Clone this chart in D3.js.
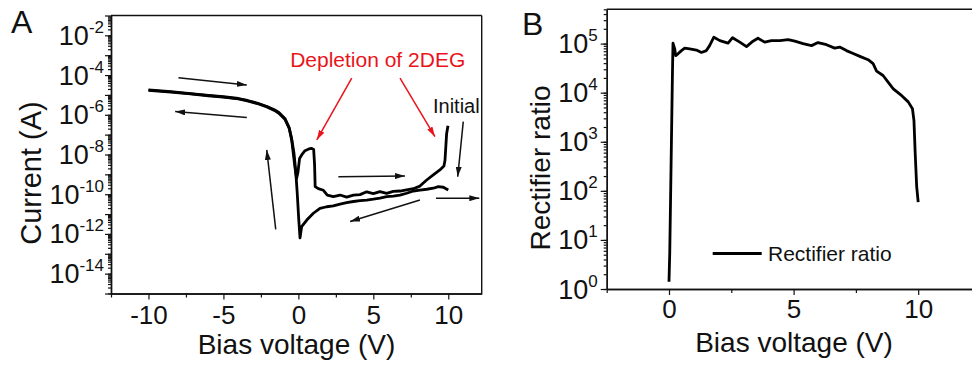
<!DOCTYPE html>
<html><head><meta charset="utf-8">
<script src="https://cdn.jsdelivr.net/npm/d3@7"></script>
<style>body{margin:0;background:#fff}svg{display:block}text{font-family:"Liberation Sans",Arial,sans-serif;fill:#111}</style>
</head><body>
<script>
// ---------- Panel A data: I-V sweeps (V, current A) ----------
const fwdV = [-10,-8.5,-7.2,-6,-5,-4,-3.4,-2.7,-2.1,-1.6,-1.3,-0.9,-0.6,-0.44,-0.33,-0.22,-0.12,-0.03,0.08,0.22,0.44,0.7,0.89,1.02,1.08,1.12,1.33,1.67,1.93,2.33,2.78,3.22,3.67,4.11,4.56,5,5.44,5.89,6.33,6.78,7.22,7.67,8.11,8.56,9,9.44,9.71,9.78,9.89,9.98];
const fwdI = [1.7e-5,1.38e-5,1.12e-5,9.1e-6,7.8e-6,6.3e-6,5.0e-6,3.6e-6,2.5e-6,1.66e-6,1.2e-6,6.0e-7,2.0e-7,5.0e-8,1.0e-8,2.0e-9,6.3e-10,1.26e-9,6.3e-9,9.5e-9,1.55e-8,1.9e-8,2.04e-8,1.78e-8,3.2e-9,2.4e-10,1.9e-10,1.58e-10,9.1e-11,7.6e-11,9.1e-11,7.2e-11,8.9e-11,9.5e-11,1.32e-10,1.07e-10,1.35e-10,1.1e-10,1.38e-10,1.45e-10,1.66e-10,1.9e-10,2.57e-10,5.2e-10,9.3e-10,1.66e-9,2.63e-9,5.0e-9,1.12e-7,2.8e-7];
const revV = [10,9.67,9.33,9,8.56,8.11,7.67,7.22,6.78,6.33,5.89,5.44,5,4.56,4.11,3.67,3.22,2.78,2.33,1.89,1.44,1,0.56,0.22,0.11,0.02,-0.08,-0.18,-0.3,-0.45,-0.62,-0.9,-1.3,-1.6,-2.1,-2.7,-3.4,-4,-5,-6,-7.2,-8.5,-10];
const revI = [1.62e-10,2.24e-10,2.4e-10,2.0e-10,1.78e-10,1.62e-10,1.45e-10,1.12e-10,9.1e-11,8.1e-11,7.6e-11,6.3e-11,5.6e-11,5.1e-11,4.8e-11,4.3e-11,3.8e-11,3.2e-11,2.57e-11,2.34e-11,1.95e-11,1.1e-11,5.0e-12,2.34e-12,6.3e-13,6.3e-12,1.26e-10,1.6e-9,1.26e-8,6.3e-8,2.24e-7,6.6e-7,1.32e-6,1.78e-6,2.63e-6,3.8e-6,5.25e-6,6.6e-6,8.1e-6,9.5e-6,1.17e-5,1.45e-5,1.78e-5];
const xTicksA = [-10,-5,0,5,10];
const xMinorA = [-12.5,-7.5,-2.5,2.5,7.5];
const yTicksA = [1e-2,1e-4,1e-6,1e-8,1e-10,1e-12,1e-14];

// annotation arrows in data coordinates [V0, I0, V1, I1]
const blackArrows = [[-8.0,7.4e-5,-3.44,3.16e-5],[-3.44,7.4e-7,-8.22,1.45e-6],[-1.51,1.7e-12,-2.11,1.7e-8],[2.67,7.6e-10,7.11,8.3e-10],[8.11,5.1e-11,3.45,4.2e-12],[11.0,4.5e-7,10.63,7.6e-10],[9.18,6.3e-11,12.07,6.3e-11]];
const redArrows = [[3.56,7.1e-5,1.23,5.4e-8],[6.78,7.1e-5,9.11,7.9e-8]];
const redLabel = {text:"Depletion of 2DEG", v:-0.55, i:2.57e-4};
const blackLabel = {text:"Initial", v:8.98, i:1.23e-6};

// ---------- Panel B data: rectifier ratio ----------
const rrV = [0,0.03,0.07,0.11,0.14,0.16,0.23,0.27,0.36,0.5,0.63,0.83,1.1,1.3,1.5,1.63,1.8,2.04,2.37,2.55,2.84,3.11,3.37,3.57,3.84,4.11,4.45,4.78,5.05,5.38,5.72,5.98,6.32,6.65,6.85,7.12,7.39,7.66,7.99,8.19,8.33,8.59,8.8,9.0,9.34,9.6,9.77,9.83,9.88,9.94,10.0];
const rrR = [1.4,5.4,120,2700,28000,102000,78000,57000,62000,72000,81000,78000,74000,66000,72000,91000,135000,115000,102000,132000,107000,87000,112000,129000,107000,115000,115000,120000,112000,100000,91000,105000,95000,81000,85000,72000,63000,55000,47000,39000,27500,22400,16200,12000,8700,6500,4700,2700,575,120,59];
const xTicksB = [0,5,10];
const xMinorB = [-2.5,2.5,7.5,12.5];
const yTicksB = [1,10,100,1000,10000,100000];

const W = 972, H = 369;
const svg = d3.select("body").append("svg").attr("width",W).attr("height",H);
const defs = svg.append("defs");
function marker(id,color,len,wid){
  defs.append("marker").attr("id",id).attr("markerUnits","userSpaceOnUse")
    .attr("viewBox",`0 0 ${len} ${wid}`).attr("refX",len).attr("refY",wid/2)
    .attr("markerWidth",len).attr("markerHeight",wid).attr("orient","auto")
    .append("path").attr("d",`M0,0L${len},${wid/2}L0,${wid}Z`).attr("fill",color);
}
marker("hb","#111",10,6);
marker("hr","#e8141c",10,6);

const fs = 26, sup = 17;

function logMinors(lo, hi){
  const out=[];
  for(let e=Math.floor(Math.log10(lo)); e<Math.ceil(Math.log10(hi)); e++)
    for(let k=1;k<10;k++){const v=k*Math.pow(10,e); if(v>=lo&&v<=hi) out.push(v);}
  return out;
}

function panel(opt){
  const g = svg.append("g");
  const x = d3.scaleLinear().domain(opt.xd).range([opt.l,opt.r]);
  const y = d3.scaleLog().domain(opt.yd).range([opt.b,opt.t]);
  g.append("g").attr("transform",`translate(0,${opt.b})`)
    .call(d3.axisBottom(x).tickValues(opt.xMinor).tickSize(4).tickFormat("").tickSizeOuter(0));
  g.append("g").attr("transform",`translate(${opt.l},0)`)
    .call(d3.axisLeft(y).tickValues(logMinors(opt.yd[0],opt.yd[1])).tickSize(3).tickFormat("").tickSizeOuter(0));
  const xa = g.append("g").attr("transform",`translate(0,${opt.b})`)
    .call(d3.axisBottom(x).tickValues(opt.xTicks).tickSize(6).tickSizeOuter(0).tickFormat(d=>String(d)));
  xa.selectAll("text").attr("y",opt.xLblY).attr("dy",0).style("font-size",fs+"px").style("font-family","Liberation Sans, Arial").attr("fill","#111");
  g.append("g").attr("transform",`translate(${opt.l},0)`)
    .call(d3.axisLeft(y).tickValues(opt.yMajorAll).tickSize(6).tickSizeOuter(0).tickFormat(""));
  g.selectAll(".domain").attr("stroke","#111").attr("stroke-width",1.4);
  g.selectAll(".tick line").attr("stroke","#111").attr("stroke-width",1.2);
  opt.yTicks.forEach(v=>{
    const t = g.append("text").attr("x",opt.l-opt.lblGap).attr("y",y(v)+9.5).attr("text-anchor","end").style("font-size","27px");
    t.append("tspan").text("10");
    t.append("tspan").attr("dy",-12).style("font-size",sup+"px").text(String(Math.round(Math.log10(v))));
  });
  return {g,x,y};
}

// ---------- Panel A ----------
const A = panel({l:111,r:481.7,t:15.5,b:293.5,xd:[-12.5,12.23],yd:[1e-15,1e-1],
  xTicks:xTicksA,xMinor:xMinorA,yTicks:yTicksA,xLblY:30,
  yMajorAll:d3.range(-15,0).map(e=>Math.pow(10,e)),lblGap:7});
A.g.append("line").attr("x1",111).attr("x2",481.7).attr("y1",15.5).attr("y2",15.5).attr("stroke","#111").attr("stroke-width",1.4);
A.g.append("line").attr("x1",481.7).attr("x2",481.7).attr("y1",15.5).attr("y2",293.5).attr("stroke","#111").attr("stroke-width",1.4);

const lineA = d3.line().x(d=>A.x(d[0])).y(d=>A.y(d[1]));
[[fwdV,fwdI],[revV,revI]].forEach(([vv,ii])=>{
  A.g.append("path").attr("d",lineA(vv.map((v,k)=>[v,ii[k]])))
    .attr("fill","none").attr("stroke","#000").attr("stroke-width",2.8).attr("stroke-linejoin","round");
});
blackArrows.forEach(a=>{
  A.g.append("line").attr("x1",A.x(a[0])).attr("y1",A.y(a[1])).attr("x2",A.x(a[2])).attr("y2",A.y(a[3]))
    .attr("stroke","#111").attr("stroke-width",1.5).attr("marker-end","url(#hb)");
});
redArrows.forEach(a=>{
  A.g.append("line").attr("x1",A.x(a[0])).attr("y1",A.y(a[1])).attr("x2",A.x(a[2])).attr("y2",A.y(a[3]))
    .attr("stroke","#e8141c").attr("stroke-width",1.5).attr("marker-end","url(#hr)");
});
A.g.append("text").attr("x",A.x(redLabel.v)).attr("y",A.y(redLabel.i)).style("font-size","21px").style("fill","#e8141c").text(redLabel.text);
A.g.append("text").attr("x",A.x(blackLabel.v)).attr("y",A.y(blackLabel.i)).style("font-size","20px").text(blackLabel.text);
A.g.append("text").attr("x",296.5).attr("y",354).attr("text-anchor","middle").style("font-size","28px").text("Bias voltage (V)");
A.g.append("text").attr("transform","translate(41,173) rotate(-90)").attr("text-anchor","middle").style("font-size","29px").text("Current (A)");
svg.append("text").attr("x",11).attr("y",33).style("font-size","32px").text("A");

// ---------- Panel B ----------
const B = panel({l:606.7,r:980.5,t:9.3,b:289,xd:[-2.5,12.5],yd:[1,5e5],
  xTicks:xTicksB,xMinor:xMinorB,yTicks:yTicksB,xLblY:29,
  yMajorAll:yTicksB,lblGap:9});
B.g.append("line").attr("x1",606.7).attr("x2",980.5).attr("y1",9.3).attr("y2",9.3).attr("stroke","#111").attr("stroke-width",1.4);
const lineB = d3.line().x(d=>B.x(d[0])).y(d=>B.y(d[1]));
B.g.append("path").attr("d",lineB(rrV.map((v,k)=>[v,rrR[k]])))
  .attr("fill","none").attr("stroke","#000").attr("stroke-width",2.8).attr("stroke-linejoin","round");
B.g.append("line").attr("x1",712.7).attr("x2",761.7).attr("y1",253.5).attr("y2",253.5).attr("stroke","#000").attr("stroke-width",2.8);
B.g.append("text").attr("x",768).attr("y",261).style("font-size","21px").text("Rectifier ratio");
B.g.append("text").attr("x",794).attr("y",352).attr("text-anchor","middle").style("font-size","28px").text("Bias voltage (V)");
B.g.append("text").attr("transform","translate(550,168) rotate(-90)").attr("text-anchor","middle").style("font-size","28px").text("Rectifier ratio");
svg.append("text").attr("x",522).attr("y",35).style("font-size","32px").text("B");
</script>
</body></html>
